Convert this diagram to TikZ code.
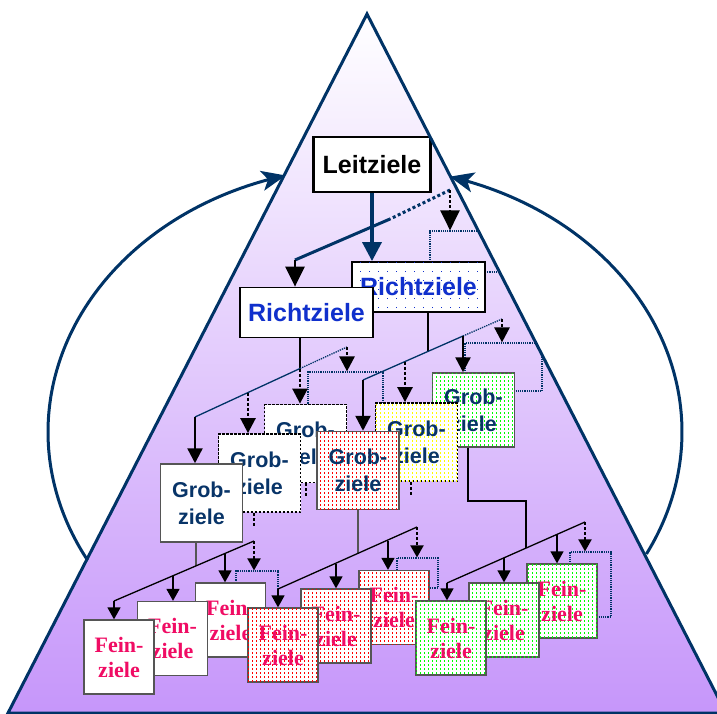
\documentclass[tikz,border=0pt]{standalone}
\usepackage{fontspec}
\setmainfont{Liberation Serif}
\setsansfont{Liberation Sans}
\usetikzlibrary{arrows.meta,patterns}
\definecolor{pyrblue}{RGB}{0,51,102}
\definecolor{richtblue}{RGB}{16,48,204}
\definecolor{grobblue}{RGB}{8,52,104}
\definecolor{feinpink}{RGB}{240,12,100}
\definecolor{pyrbottom}{RGB}{198,150,250}
\definecolor{boxgray}{RGB}{85,85,85}
\pgfdeclarepatternformonly{widedots}{\pgfqpoint{-1pt}{-1pt}}{\pgfqpoint{1pt}{1pt}}{\pgfqpoint{9pt}{9pt}}{\pgfpathrectangle{\pgfqpoint{-0.5pt}{-0.5pt}}{\pgfqpoint{1pt}{1pt}}\pgfusepath{fill}}
\pgfdeclarepatternformonly{griddots}{\pgfqpoint{-1pt}{-1pt}}{\pgfqpoint{1pt}{1pt}}{\pgfqpoint{4pt}{4pt}}{\pgfpathrectangle{\pgfqpoint{-0.5pt}{-0.5pt}}{\pgfqpoint{1.05pt}{1.05pt}}\pgfusepath{fill}}
\tikzset{
    leitbox/.style = {draw, line width=2.6pt, fill=white,
        minimum width=117pt, minimum height=55pt, inner sep=0pt,
        font=\sffamily\bfseries\fontsize{25}{30}\selectfont},
    richtbox/.style = {draw, line width=1.8pt, fill=white,
        minimum width=133pt, minimum height=50pt, inner sep=0pt,
        text=richtblue, font=\sffamily\bfseries\fontsize{25}{30}\selectfont},
    grobbox/.style = {draw=boxgray, line width=1.5pt, fill=white,
        minimum width=82pt, minimum height=78pt, inner sep=0pt, align=center,
        text=grobblue, font=\sffamily\bfseries\fontsize{21.5}{27}\selectfont},
    feinbox/.style = {draw=boxgray, line width=1.3pt, fill=white,
        minimum width=70pt, minimum height=74pt, inner sep=0pt, align=center,
        text=feinpink, font=\rmfamily\bfseries\fontsize{22}{25}\selectfont},
    dotborder/.style = {draw=black, dash pattern=on 2.5pt off 1.5pt, line width=1.8pt},
    ghost/.style = {draw=pyrblue, densely dotted, line width=1.2pt, inner sep=0pt},
    reddots/.style = {postaction={pattern=griddots, pattern color=red}},
    greendots/.style = {postaction={pattern=griddots, pattern color=green}},
    yellowdots/.style = {postaction={pattern=griddots, pattern color=yellow}},
    bluedots/.style = {postaction={pattern=widedots, pattern color=richtblue}},
    toplink/.style = {draw=pyrblue, line width=3pt},
    midlink/.style = {draw=pyrblue, line width=1.3pt},
    lowlink/.style = {draw=black, line width=1.3pt},
    stem/.style = {draw=black, line width=1.8pt},
    graystem/.style = {draw=boxgray, line width=1.5pt},
    solidarrow/.style = {draw=black, line width=2.4pt},
    dotarrow/.style = {draw=black, line width=2.6pt, dash pattern=on 3pt off 2pt},
    bigtip/.style = {-{Triangle[length=20pt,width=19pt]}},
    midtip/.style = {-{Triangle[length=15pt,width=15pt]}},
    smalltip/.style = {-{Triangle[length=12pt,width=13pt]}},
    arcline/.style = {draw=pyrblue, line width=3pt, -{Stealth[length=24pt,width=20pt,inset=6pt]}}
}
\begin{document}
\begin{tikzpicture}[x=1pt,y=-1pt]
    \useasboundingbox (0,0) rectangle (717,713);
    \coordinate (apex) at (367,14);
    \coordinate (bl) at (8,713);
    \coordinate (br) at (726,713);
    \shade[top color=white, bottom color=pyrbottom] (apex) -- (bl) -- (br) -- cycle;
    \begin{scope}
        \clip (apex) -- (bl) -- (br) -- cycle;
        % Richtziele
        \node[ghost, minimum width=80pt, minimum height=41pt] (ghostR) at (470,251.5) {};
        \node[richtbox, bluedots] (richtB) at (418.5,287) {Richtziele};
        \node[leitbox] (leit) at (372,164.5) {Leitziele};
        \coordinate (rtop) at (450,190);
        \coordinate (rmid) at (390,219);
        \coordinate (rcorner) at (295,260);
        \draw[toplink, dash pattern=on 3pt off 2.5pt] (rtop) -- (rmid);
        \draw[toplink] (rmid) -- (rcorner);
        \draw[dotarrow, bigtip] (rtop) -- (rtop |- ghostR.north);
        \draw[toplink, line width=3.5pt, -{Triangle[length=19pt,width=19pt]}] (leit.south) -- (leit.south |- richtB.north);
        \node[richtbox] (richtA) at (306.5,312.5) {Richtziele};
        \draw[solidarrow, bigtip] (rcorner) -- (rcorner |- richtA.north);
        % Grobziele links
        \coordinate (ga0) at (195,417);
        \coordinate (ga1) at (248,392.5);
        \coordinate (ga2) at (300,368.5);
        \coordinate (ga3) at (347,347);
        \node[ghost, minimum width=75pt, minimum height=88pt] (ghostA) at (345.5,416) {};
        \node[grobbox, dotborder] (grobA3) at (305.5,443.5) {Grob-\\ziele};
        \node[grobbox, dotborder] (grobA2) at (259.5,473) {Grob-\\ziele};
        \node[grobbox] (grobA1) at (201.5,503) {Grob-\\ziele};
        \draw[stem] (ga2 |- richtA.south) -- (ga2);
        \draw[midlink] (ga0) -- (ga2);
        \draw[midlink, densely dotted] (ga2) -- (ga3);
        \draw[solidarrow, midtip] (ga0) -- (ga0 |- grobA1.north);
        \draw[dotarrow, midtip] (ga1) -- (ga1 |- grobA2.north);
        \draw[dotarrow, midtip] (ga2) -- (ga2 |- grobA3.north);
        \draw[dotarrow, midtip] (ga3) -- (ga3 |- ghostA.north);
        % Grobziele rechts
        \coordinate (gb0) at (363,380);
        \coordinate (gb1) at (405,361.5);
        \coordinate (gbj) at (428,351.5);
        \coordinate (gb2) at (463,336);
        \coordinate (gb3) at (502,319);
        \node[ghost, minimum width=77pt, minimum height=48pt] (ghostB) at (503.5,367) {};
        \node[grobbox, greendots, minimum height=74pt] (grobB3) at (473.5,410) {Grob-\\ziele};
        \node[grobbox, dotborder, yellowdots] (grobB2) at (416.5,442) {Grob-\\ziele};
        \node[grobbox, reddots] (grobB1) at (358,470.5) {Grob-\\ziele};
        \draw[stem] (gbj |- richtB.south) -- (gbj);
        \draw[midlink] (gb0) -- (gb2);
        \draw[midlink, densely dotted] (gb2) -- (gb3);
        \draw[solidarrow, midtip] (gb0) -- (gb0 |- grobB1.north);
        \draw[dotarrow, midtip] (gb1) -- (gb1 |- grobB2.north);
        \draw[solidarrow, midtip] (gb2) -- (gb2 |- grobB3.north);
        \draw[dotarrow, midtip] (gb3) -- (gb3 |- ghostB.north);
        \draw[dotarrow, line width=2pt] (grobA3.south) -- ++(0,13);
        \draw[dotarrow, line width=2pt] ([xshift=-5.5pt]grobA2.south) -- ++(0,14);
        \draw[dotarrow, line width=2pt] ([xshift=-5.5pt]grobB2.south) -- ++(0,14);
        % Feinziele 1
        \coordinate (fa0) at (114,601);
        \coordinate (fa1) at (173,575.5);
        \coordinate (faj) at (196,566);
        \coordinate (fa2) at (225,553.5);
        \coordinate (fa3) at (254,541);
        \node[ghost, minimum width=42pt, minimum height=44pt] (ghostFA) at (257,593) {};
        \node[feinbox] (feinA3) at (230.5,620) {Fein-\\ziele};
        \node[feinbox] (feinA2) at (172.5,638.5) {Fein-\\ziele};
        \node[feinbox] (feinA1) at (119,657) {Fein-\\ziele};
        \draw[graystem] (faj |- grobA1.south) -- (faj);
        \draw[lowlink] (fa0) -- (fa3);
        \draw[lowlink, smalltip] (fa0) -- (fa0 |- feinA1.north);
        \draw[lowlink, smalltip] (fa1) -- (fa1 |- feinA2.north);
        \draw[lowlink, smalltip] (fa2) -- (fa2 |- feinA3.north);
        \draw[dotarrow, line width=2pt, smalltip] (fa3) -- (fa3 |- ghostFA.north);
        % Feinziele 2
        \coordinate (fb0) at (278,589);
        \coordinate (fb1) at (336,563.5);
        \coordinate (fbj) at (358,553.5);
        \coordinate (fb2) at (388,540.5);
        \coordinate (fb3) at (417,527);
        \node[ghost, minimum width=41pt, minimum height=30pt] (ghostFB) at (417.5,573) {};
        \node[feinbox, reddots] (feinB3) at (394,607.5) {Fein-\\ziele};
        \node[feinbox, reddots] (feinB2) at (336,626) {Fein-\\ziele};
        \node[feinbox, reddots] (feinB1) at (283,645) {Fein-\\ziele};
        \draw[graystem] (fbj |- grobB1.south) -- (fbj);
        \draw[lowlink] (fb0) -- (fb3);
        \draw[lowlink, smalltip] (fb0) -- (fb0 |- feinB1.north);
        \draw[lowlink, smalltip] (fb1) -- (fb1 |- feinB2.north);
        \draw[lowlink, smalltip] (fb2) -- (fb2 |- feinB3.north);
        \draw[dotarrow, line width=2pt, smalltip] (fb3) -- (fb3 |- ghostFB.north);
        % Feinziele 3
        \coordinate (fc0) at (447,583);
        \coordinate (fc1) at (504,558);
        \coordinate (fcj) at (526,548);
        \coordinate (fc2) at (557,534.5);
        \coordinate (fc3) at (585,522);
        \node[ghost, minimum width=41pt, minimum height=65pt] (ghostFC) at (590.5,584.5) {};
        \node[feinbox, greendots] (feinC3) at (562,601) {Fein-\\ziele};
        \node[feinbox, greendots] (feinC2) at (504,620) {Fein-\\ziele};
        \node[feinbox, greendots] (feinC1) at (451,638) {Fein-\\ziele};
        \draw[lowlink, line width=1.5pt] ([xshift=-5.5pt]grobB3.south) -- ++(0,53) -| (fcj);
        \draw[lowlink] (fc0) -- (fc3);
        \draw[lowlink, smalltip] (fc0) -- (fc0 |- feinC1.north);
        \draw[lowlink, smalltip] (fc1) -- (fc1 |- feinC2.north);
        \draw[lowlink, smalltip] (fc2) -- (fc2 |- feinC3.north);
        \draw[dotarrow, line width=2pt, smalltip] (fc3) -- (fc3 |- ghostFC.north);
    \end{scope}
    \draw[pyrblue, line width=3pt] (apex) -- (bl) -- (br) -- cycle;
    \draw[arcline] plot[domain=208.9:104.5, samples=60, smooth] ({365+317*cos(\x)},{432-265*sin(\x)});
    \draw[arcline] plot[domain=-27.4:74.5, samples=60, smooth] ({365+317*cos(\x)},{432-265*sin(\x)});
\end{tikzpicture}
\end{document}
